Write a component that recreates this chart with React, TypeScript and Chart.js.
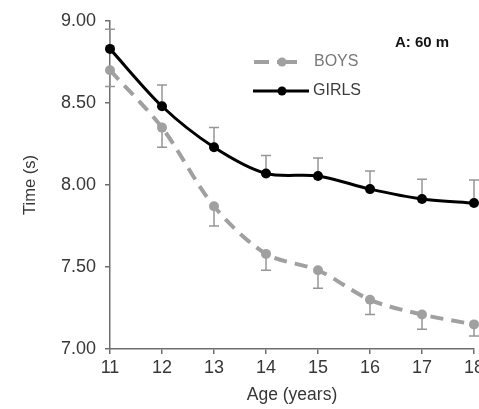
import React, { useEffect, useRef } from "react";
import { Chart, registerables } from "chart.js";

Chart.register(...registerables);

const ages = [11, 12, 13, 14, 15, 16, 17, 18];
const boys = [8.7, 8.35, 7.87, 7.58, 7.48, 7.3, 7.21, 7.15];
const girls = [8.83, 8.48, 8.23, 8.07, 8.055, 7.975, 7.915, 7.89];
const boysSD = [0.1, 0.12, 0.12, 0.1, 0.11, 0.09, 0.09, 0.07];
const girlsSD = [0.12, 0.13, 0.12, 0.11, 0.11, 0.11, 0.12, 0.14];
const yTicks = [7.0, 7.5, 8.0, 8.5, 9.0];
const seriesNames = ["BOYS", "GIRLS"];
const panelLabel = "A: 60 m";
const xTitle = "Age (years)";
const yTitle = "Time (s)";

const FONT = "'Liberation Sans', Arial, Helvetica, sans-serif";
const BOYS_COLOR = "rgb(160,160,160)";
const GIRLS_COLOR = "rgb(0,0,0)";
const ERR_COLOR = "rgb(150,150,150)";
const TEXT_COLOR = "rgb(55,55,55)";
const AXIS_COLOR = "rgb(110,110,110)";

const errorBarPlugin = {
  id: "errorBars",
  beforeDatasetsDraw(chart: any) {
    const ctx = chart.ctx;
    const xs = chart.scales.x;
    const ys = chart.scales.y;
    const sets = [
      { vals: boys, sd: boysSD, dir: -1 },
      { vals: girls, sd: girlsSD, dir: 1 },
    ];
    ctx.save();
    ctx.strokeStyle = ERR_COLOR;
    ctx.lineWidth = 1.5;
    sets.forEach((s) => {
      s.vals.forEach((v, i) => {
        const x = xs.getPixelForValue(ages[i]);
        const y0 = ys.getPixelForValue(v);
        const y1 = ys.getPixelForValue(v + s.dir * s.sd[i]);
        ctx.beginPath();
        ctx.moveTo(x, y0);
        ctx.lineTo(x, y1);
        ctx.moveTo(x - 5, y1);
        ctx.lineTo(x + 5, y1);
        ctx.stroke();
      });
    });
    ctx.restore();
  },
};

const legendPlugin = {
  id: "customLegend",
  afterDraw(chart: any) {
    const ctx = chart.ctx;
    ctx.save();
    // BOYS
    ctx.strokeStyle = BOYS_COLOR;
    ctx.lineWidth = 4;
    ctx.beginPath();
    ctx.moveTo(254, 62);
    ctx.lineTo(269, 62);
    ctx.moveTo(277, 62);
    ctx.lineTo(297, 62);
    ctx.stroke();
    ctx.fillStyle = BOYS_COLOR;
    ctx.beginPath();
    ctx.arc(282, 62, 4.5, 0, Math.PI * 2);
    ctx.fill();
    ctx.font = `16px ${FONT}`;
    ctx.textBaseline = "middle";
    ctx.textAlign = "left";
    ctx.fillStyle = "rgb(120,120,120)";
    ctx.fillText(seriesNames[0], 314, 62);
    // GIRLS
    ctx.strokeStyle = GIRLS_COLOR;
    ctx.lineWidth = 3;
    ctx.beginPath();
    ctx.moveTo(253, 91);
    ctx.lineTo(309, 91);
    ctx.stroke();
    ctx.fillStyle = GIRLS_COLOR;
    ctx.beginPath();
    ctx.arc(282, 91, 4.5, 0, Math.PI * 2);
    ctx.fill();
    ctx.fillStyle = "rgb(60,60,60)";
    ctx.fillText(seriesNames[1], 313, 91);
    // Panel label
    ctx.font = `bold 15px ${FONT}`;
    ctx.fillStyle = "rgb(20,20,20)";
    ctx.fillText(panelLabel, 395, 43);
    ctx.restore();
  },
};

export default function App() {
  const ref = useRef<HTMLCanvasElement | null>(null);
  useEffect(() => {
    if (!ref.current) return;
    const chart = new Chart(ref.current, {
      type: "line",
      data: {
        datasets: [
          {
            label: seriesNames[0],
            data: ages.map((a, i) => ({ x: a, y: boys[i] })),
            borderColor: BOYS_COLOR,
            backgroundColor: BOYS_COLOR,
            borderWidth: 4,
            borderDash: [13, 8],
            pointRadius: 5,
            pointBorderWidth: 0,
            pointBackgroundColor: BOYS_COLOR,
            tension: 0.3,
            clip: false as any,
          },
          {
            label: seriesNames[1],
            data: ages.map((a, i) => ({ x: a, y: girls[i] })),
            borderColor: GIRLS_COLOR,
            backgroundColor: GIRLS_COLOR,
            borderWidth: 3,
            pointRadius: 5,
            pointBorderWidth: 0,
            pointBackgroundColor: GIRLS_COLOR,
            tension: 0.3,
            clip: false as any,
          },
        ],
      },
      options: {
        animation: false,
        responsive: false,
        layout: { padding: { top: 21, right: 3, left: 0, bottom: 0 } },
        plugins: {
          legend: { display: false },
          tooltip: { enabled: false },
        },
        scales: {
          x: {
            type: "linear",
            min: 11,
            max: 18,
            grid: {
              drawOnChartArea: false,
              drawTicks: true,
              tickLength: 5,
              color: AXIS_COLOR,
              lineWidth: 1.5,
            },
            border: { display: true, color: AXIS_COLOR, width: 1.5 },
            ticks: {
              stepSize: 1,
              padding: 3,
              color: TEXT_COLOR,
              font: { family: FONT, size: 18 },
              maxRotation: 0,
            },
            title: {
              display: true,
              text: xTitle,
              color: TEXT_COLOR,
              font: { family: FONT, size: 17.5 },
              padding: { top: 0, bottom: 3 },
            },
            afterFit(scale: any) {
              scale.height = 60;
              scale.paddingLeft = 0;
              scale.paddingRight = 0;
            },
          },
          y: {
            type: "linear",
            min: 7,
            max: 9,
            grid: {
              drawOnChartArea: false,
              drawTicks: true,
              tickLength: 5,
              color: AXIS_COLOR,
              lineWidth: 1.5,
            },
            border: { display: true, color: AXIS_COLOR, width: 1.5 },
            afterBuildTicks(scale: any) {
              scale.ticks = yTicks.map((v) => ({ value: v }));
            },
            ticks: {
              padding: 9,
              color: TEXT_COLOR,
              font: { family: FONT, size: 18 },
              callback: (v: any) => Number(v).toFixed(2),
            },
            title: {
              display: true,
              text: yTitle,
              color: TEXT_COLOR,
              font: { family: FONT, size: 16.5 },
              padding: { top: 21, bottom: 0 },
            },
            afterFit(scale: any) {
              scale.width = 110;
              scale.paddingTop = 0;
              scale.paddingBottom = 0;
            },
          },
        },
      },
      plugins: [errorBarPlugin, legendPlugin],
    });
    return () => chart.destroy();
  }, []);
  return (
    <div
      style={{
        position: "fixed",
        left: 0,
        top: 0,
        width: 479,
        height: 409,
        overflow: "hidden",
        background: "#fff",
      }}
    >
      <canvas ref={ref} width={479} height={409} style={{ display: "block" }} />
    </div>
  );
}
